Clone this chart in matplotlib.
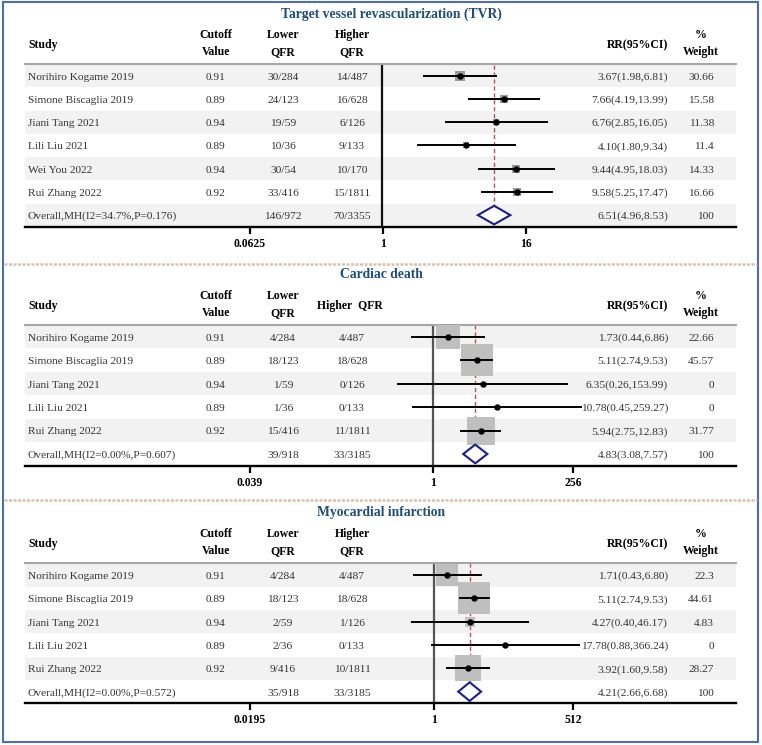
import matplotlib
matplotlib.use("Agg")
import matplotlib.pyplot as plt
import matplotlib.transforms as mtransforms
from matplotlib.patches import Rectangle, Polygon
from matplotlib.ticker import NullLocator
import numpy as np

plt.rcParams["font.family"] = ["Liberation Serif", "DejaVu Serif"]

# ---- data: target vessel revascularization ----
STUDIES_TVR = ["Norihiro Kogame 2019", "Simone Biscaglia 2019", "Jiani Tang 2021",
               "Lili Liu 2021", "Wei You 2022", "Rui Zhang 2022"]
CUTOFF_TVR = ["0.91", "0.89", "0.94", "0.89", "0.94", "0.92"]
LOWER_TVR = ["30/284", "24/123", "19/59", "10/36", "30/54", "33/416"]
HIGHER_TVR = ["14/487", "16/628", "6/126", "9/133", "10/170", "15/1811"]
RR_TVR = [3.67, 7.66, 6.76, 4.10, 9.44, 9.58]
LO_TVR = [1.98, 4.19, 2.85, 1.80, 4.95, 5.25]
HI_TVR = [6.81, 13.99, 16.05, 9.34, 18.03, 17.47]
WEIGHT_TVR = [30.66, 15.58, 11.38, 11.4, 14.33, 16.66]
OVERALL_TVR = ("Overall,MH(I2=34.7%,P=0.176)", "146/972", "70/3355", 6.51, 4.96, 8.53, 100)
TICKS_TVR = ["0.0625", "1", "16"]

# ---- data: cardiac death ----
STUDIES_CD = ["Norihiro Kogame 2019", "Simone Biscaglia 2019", "Jiani Tang 2021",
              "Lili Liu 2021", "Rui Zhang 2022"]
CUTOFF_CD = ["0.91", "0.89", "0.94", "0.89", "0.92"]
LOWER_CD = ["4/284", "18/123", "1/59", "1/36", "15/416"]
HIGHER_CD = ["4/487", "18/628", "0/126", "0/133", "11/1811"]
RR_CD = [1.73, 5.11, 6.35, 10.78, 5.94]
LO_CD = [0.44, 2.74, 0.26, 0.45, 2.75]
HI_CD = [6.86, 9.53, 153.99, 259.27, 12.83]
WEIGHT_CD = [22.66, 45.57, 0, 0, 31.77]
OVERALL_CD = ("Overall,MH(I2=0.00%,P=0.607)", "39/918", "33/3185", 4.83, 3.08, 7.57, 100)
TICKS_CD = ["0.039", "1", "256"]

# ---- data: myocardial infarction ----
STUDIES_MI = STUDIES_CD
CUTOFF_MI = CUTOFF_CD
LOWER_MI = ["4/284", "18/123", "2/59", "2/36", "9/416"]
HIGHER_MI = ["4/487", "18/628", "1/126", "0/133", "10/1811"]
RR_MI = [1.71, 5.11, 4.27, 17.78, 3.92]
LO_MI = [0.43, 2.74, 0.40, 0.88, 1.60]
HI_MI = [6.80, 9.53, 46.17, 366.24, 9.58]
WEIGHT_MI = [22.3, 44.61, 4.83, 0, 28.27]
OVERALL_MI = ("Overall,MH(I2=0.00%,P=0.572)", "35/918", "33/3185", 4.21, 2.66, 6.68, 100)
TICKS_MI = ["0.0195", "1", "512"]

W, H = 762, 745
X0, X1 = 25, 736          # table span (px)
PT = 100 / 72             # px per point
TEXT_C = "#333333"
FS = 8.2
HFS = 8.5


def colx(px):
    return (px - X0) / (X1 - X0)


def draw_panel(fig, title, studies, cutoff, lower, higher, rr, lo, hi, weight, overall,
               tick_labels, lay):
    n = len(studies) + 1
    top, bottom, a, b = lay["top"], lay["bottom"], lay["a"], lay["b"]
    rowh = (bottom - top) / n
    ax = fig.add_axes([X0 / W, 1 - bottom / H, (X1 - X0) / W, (bottom - top) / H])
    ax.patch.set_visible(False)
    ax.set_xscale("log", base=2)
    ax.set_xlim(2 ** ((X0 - a) / b), 2 ** ((X1 - a) / b))
    ax.set_ylim(n + 0.5, 0.5)

    rows = np.arange(1, n)
    for i in range(1, n + 1, 2):
        ax.axhspan(i - 0.5, i + 0.5, color="#F2F2F2", lw=0, zorder=0)

    o_lab, o_low, o_high, o_rr, o_lo, o_hi, o_w = overall
    ax.axvline(1, color=lay["null_color"], lw=1.6, zorder=1)
    ax.axvline(o_rr, ymin=0.03, ymax=1, color="#C0504D", lw=1.0, ls=(0, (3, 2)), zorder=2)

    for r, v, w in zip(rows, rr, weight):
        if w > 0:
            ax.plot(v, r, marker="s", ms=lay["sq"] * np.sqrt(w) / PT, color=lay["sq_color"],
                    mew=0, ls="none", zorder=3)
    ax.hlines(rows, lo, hi, color="black", lw=1.4, zorder=4)
    ax.plot(rr, rows, "o", ms=3.6, color="black", ls="none", zorder=5)
    ax.add_patch(Polygon([[o_lo, n], [o_rr, n - 0.4], [o_hi, n], [o_rr, n + 0.4]],
                         closed=True, facecolor="white", edgecolor="#1C1C8C", lw=1.5, zorder=4))

    # axes styling
    for s in ("left", "right"):
        ax.spines[s].set_visible(False)
    ax.spines["top"].set_color("#A6A6A6")
    ax.spines["top"].set_linewidth(1.5)
    ax.spines["bottom"].set_color("black")
    ax.spines["bottom"].set_linewidth(1.7)
    ax.set_yticks([])
    ax.xaxis.set_minor_locator(NullLocator())
    tick_vals = [2 ** ((px - a) / b) for px in lay["ticks_px"]]
    ax.set_xticks(tick_vals, tick_labels, fontweight="bold", fontsize=8.4)
    ax.tick_params(axis="x", direction="out", length=5, width=1.6, pad=3.0, color="black")

    tr = mtransforms.blended_transform_factory(ax.transAxes, ax.transData)
    kw = dict(transform=tr, fontsize=FS, color=TEXT_C, va="center", clip_on=False)

    labels = list(studies) + [o_lab]
    cut = list(cutoff) + [""]
    low = list(lower) + [o_low]
    high = list(higher) + [o_high]
    rr_txt = [f"{v:.2f}({l:.2f},{h:.2f})" for v, l, h in zip(rr, lo, hi)]
    rr_txt.append(f"{o_rr:.2f}({o_lo:.2f},{o_hi:.2f})")
    w_txt = [f"{w:g}" for w in weight] + [f"{o_w:g}"]
    for i in range(n):
        y = i + 1 + 0.06
        ax.text(colx(28), y, labels[i], ha="left", **kw)
        ax.text(colx(216), y, cut[i], ha="center", **kw)
        ax.text(colx(283), y, low[i], ha="center", **kw)
        ax.text(colx(352), y, high[i], ha="center", **kw)
        ax.text(colx(668), y, rr_txt[i], ha="right", **kw)
        ax.text(colx(714), y, w_txt[i], ha="right", **kw)

    hk = dict(transform=tr, fontsize=HFS, color="black", fontweight="bold",
              va="center", clip_on=False, linespacing=1.55)
    y1 = 0.5 - 19 / rowh
    y2 = 0.5 - 20.5 / rowh
    ax.text(colx(28), y1, "Study", ha="left", **hk)
    ax.text(colx(216), y2, "Cutoff\nValue", ha="center", **hk)
    ax.text(colx(283), y2, "Lower\nQFR", ha="center", **hk)
    if lay["higher_one_line"]:
        ax.text(colx(350), y1, "Higher  QFR", ha="center", **hk)
    else:
        ax.text(colx(352), y2, "Higher\nQFR", ha="center", **hk)
    ax.text(colx(668), y1, "RR(95%CI)", ha="right", **hk)
    ax.text(colx(701), y2, "%\nWeight", ha="center", **hk)

    ax.text(colx(lay["title_x"]), 0.5 - 50.5 / rowh, title, ha="center", va="center",
            transform=tr, fontsize=9.8, fontweight="bold", color="#1F4E79", clip_on=False)
    return ax


LAY_TVR = dict(top=64.3, bottom=226.7, a=382, b=41.5, ticks_px=[250, 383, 526], sq=1.85,
               sq_color="#9A9A9A", null_color="#111111", title_x=391, higher_one_line=False)
LAY_CD = dict(top=325, bottom=465.7, a=433, b=18.6, ticks_px=[250, 433, 573], sq=4.85,
              sq_color="#BFBFBF", null_color="#555555", title_x=381, higher_one_line=True)
LAY_MI = dict(top=563.3, bottom=703.3, a=434, b=17.2, ticks_px=[250, 434, 573], sq=4.85,
              sq_color="#BFBFBF", null_color="#555555", title_x=381.5, higher_one_line=False)


def main():
    fig = plt.figure(figsize=(W / 100, H / 100), dpi=100)
    bg = fig.add_axes([0, 0, 1, 1])
    bg.set_xlim(0, W)
    bg.set_ylim(H, 0)
    bg.axis("off")
    bg.add_patch(Rectangle((3, 2), 755, 740, fill=False, ec="#4A6DB3", lw=1.5))
    bg.hlines([264, 500], 4, 757, colors="#D9C3AD", lw=1.8, linestyles=[(0, (1.2, 0.6))])

    draw_panel(fig, "Target vessel revascularization (TVR)", STUDIES_TVR, CUTOFF_TVR,
               LOWER_TVR, HIGHER_TVR, RR_TVR, LO_TVR, HI_TVR, WEIGHT_TVR, OVERALL_TVR,
               TICKS_TVR, LAY_TVR)
    draw_panel(fig, "Cardiac death", STUDIES_CD, CUTOFF_CD, LOWER_CD, HIGHER_CD,
               RR_CD, LO_CD, HI_CD, WEIGHT_CD, OVERALL_CD, TICKS_CD, LAY_CD)
    draw_panel(fig, "Myocardial infarction", STUDIES_MI, CUTOFF_MI, LOWER_MI, HIGHER_MI,
               RR_MI, LO_MI, HI_MI, WEIGHT_MI, OVERALL_MI, TICKS_MI, LAY_MI)

    fig.savefig("out.png", dpi=100)
    plt.close(fig)


if __name__ == "__main__":
    main()
